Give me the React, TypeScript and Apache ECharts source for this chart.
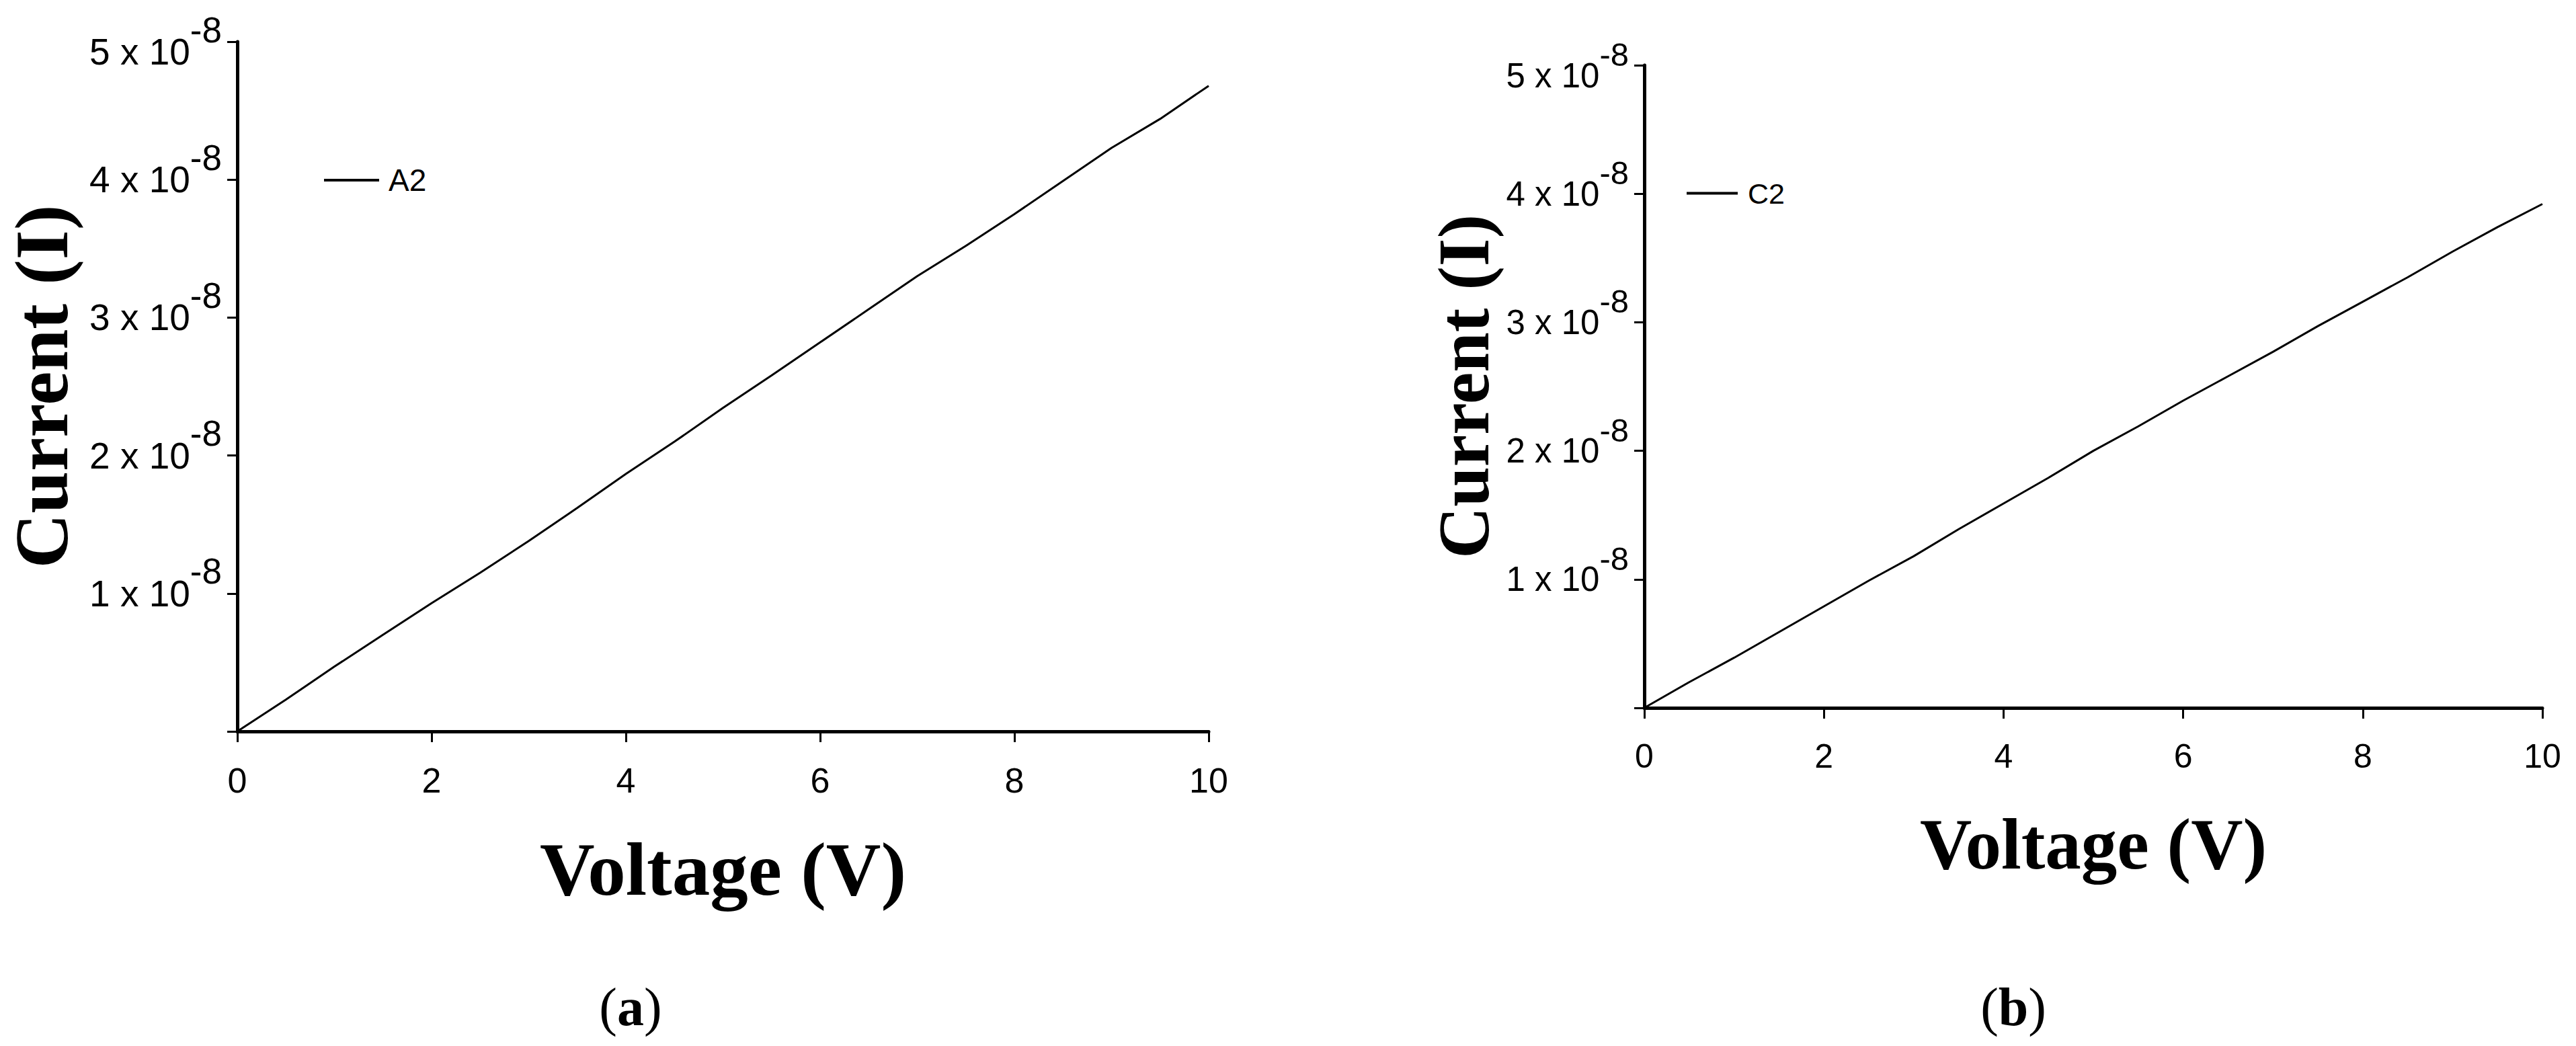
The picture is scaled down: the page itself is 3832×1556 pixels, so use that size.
import React, { useEffect, useRef } from "react";
import * as echarts from "echarts";

// Voltage sweep (V)
const VOLTAGE = [0, 0.5, 1, 1.5, 2, 2.5, 3, 3.5, 4, 4.5, 5, 5.5, 6, 6.5, 7, 7.5, 8, 8.5, 9, 9.5, 10];
// Current in units of 1e-8 A
const CURRENT_A2 = [0, 0.23, 0.47, 0.7, 0.93, 1.15, 1.38, 1.62, 1.866, 2.1, 2.345, 2.58, 2.82, 3.06, 3.3, 3.52, 3.75, 3.99, 4.23, 4.44, 4.68];
const CURRENT_C2 = [0, 0.2, 0.39, 0.59, 0.79, 0.99, 1.18, 1.39, 1.59, 1.79, 2.0, 2.19, 2.39, 2.58, 2.77, 2.97, 3.16, 3.35, 3.55, 3.74, 3.92];

const SERIES_NAMES = ["A2", "C2"];
const PANEL_LABELS = ["a", "b"];
const X_TITLE = "Voltage (V)";
const Y_TITLE = "Current (I)";
const Y_EXPONENT = "-8";
const X_TICK_INTERVAL = 2;
const Y_TICK_INTERVAL = 1;

const SANS = "'Liberation Sans', Arial, sans-serif";
const SERIF = "'Liberation Serif', 'Times New Roman', serif";

const yLabelFormatter = (v: number) => {
  if (v === 0) return "";
  const main = `{m|${v} x 10}{s|${Y_EXPONENT}}`;
  return v === 5 ? `{g| }\n${main}` : main;
};

const makeRich = (mSize: number, sSize: number, raise: number) => ({
  m: { fontFamily: SANS, fontSize: mSize, color: "#000" },
  s: { fontFamily: SANS, fontSize: sSize, color: "#000", padding: [0, 0, raise * 2, 0] },
  g: { fontSize: 1, lineHeight: 30 },
});

function makeAxes(
  gridIndex: number,
  nameGapX: number,
  nameGapY: number,
  titleSize: number,
  xLabelSize: number,
  rich: any
) {
  const xMain = {
    type: "value",
    gridIndex,
    position: "bottom",
    min: 0,
    max: 10,
    interval: X_TICK_INTERVAL,
    axisLine: { show: true, lineStyle: { color: "#000", width: 5 } },
    axisTick: { show: true, inside: false, length: 16, lineStyle: { color: "#000", width: 3 } },
    axisLabel: { fontFamily: SANS, fontSize: xLabelSize, color: "#000", margin: 47 },
    splitLine: { show: false },
    name: X_TITLE,
    nameLocation: "middle",
    nameGap: nameGapX,
    nameTextStyle: { fontFamily: SERIF, fontWeight: "bold", fontSize: titleSize, color: "#000" },
  };
  const xTop = {
    type: "value",
    gridIndex,
    position: "top",
    min: 0,
    max: 10,
    interval: X_TICK_INTERVAL,
    axisLine: { show: true, lineStyle: { color: "#000", width: 3.5 } },
    axisTick: { show: false },
    axisLabel: { show: false },
    splitLine: { show: false },
  };
  const yMain = {
    type: "value",
    gridIndex,
    position: "left",
    min: 0,
    max: 5,
    interval: Y_TICK_INTERVAL,
    axisLine: { show: true, lineStyle: { color: "#000", width: 3.5 } },
    axisTick: { show: true, inside: false, length: 15, lineStyle: { color: "#000", width: 3 } },
    axisLabel: { formatter: yLabelFormatter, rich, margin: 23, color: "#000" },
    splitLine: { show: false },
    name: Y_TITLE,
    nameLocation: "middle",
    nameGap: nameGapY,
    nameTextStyle: { fontFamily: SERIF, fontWeight: "bold", fontSize: titleSize, color: "#000" },
  };
  const yRight = {
    type: "value",
    gridIndex,
    position: "right",
    min: 0,
    max: 5,
    interval: Y_TICK_INTERVAL,
    axisLine: { show: true, lineStyle: { color: "#000", width: 5 } },
    axisTick: { show: false },
    axisLabel: { show: false },
    splitLine: { show: false },
  };
  return { x: [xMain, xTop], y: [yMain, yRight] };
}

export default function App() {
  const ref = useRef<HTMLDivElement>(null);

  useEffect(() => {
    if (!ref.current) return;
    const chart = echarts.init(ref.current, undefined, { renderer: "svg" });
    const a = makeAxes(0, 148, 235, 113, 52, makeRich(55, 53, 33));
    const b = makeAxes(1, 149, 215, 107, 50, makeRich(51, 49, 31));

    const pairs = (ys: number[]) => VOLTAGE.map((v, i) => [v, ys[i]]);

    const option = {
      animation: false,
      backgroundColor: "#fff",
      grid: [
        { left: 353, top: 62, width: 1445, height: 1026, containLabel: false },
        { left: 2446, top: 97, width: 1336, height: 956, containLabel: false },
      ],
      xAxis: [...a.x, ...b.x],
      yAxis: [...a.y, ...b.y],
      legend: [
        {
          data: [{ name: SERIES_NAMES[0], icon: "rect" }],
          left: 482,
          top: 220,
          padding: 0,
          itemWidth: 82,
          itemHeight: 4,
          selectedMode: false,
          itemStyle: { color: "#000" },
          textStyle: { fontFamily: SANS, fontSize: 46, lineHeight: 46, color: "#000", padding: [0, 0, 50, 9] },
        },
        {
          data: [{ name: SERIES_NAMES[1], icon: "rect" }],
          left: 2509,
          top: 244,
          padding: 0,
          itemWidth: 76,
          itemHeight: 4,
          selectedMode: false,
          itemStyle: { color: "#000" },
          textStyle: { fontFamily: SANS, fontSize: 43, lineHeight: 43, color: "#000", padding: [0, 0, 44, 10] },
        },
      ],
      series: [
        {
          name: SERIES_NAMES[0],
          type: "line",
          xAxisIndex: 0,
          yAxisIndex: 0,
          data: pairs(CURRENT_A2),
          showSymbol: false,
          symbol: "none",
          color: "#000",
          lineStyle: { color: "#000", width: 3 },
        },
        {
          name: SERIES_NAMES[1],
          type: "line",
          xAxisIndex: 2,
          yAxisIndex: 2,
          data: pairs(CURRENT_C2),
          showSymbol: false,
          symbol: "none",
          color: "#000",
          lineStyle: { color: "#000", width: 3 },
        },
      ],
      graphic: PANEL_LABELS.map((p, i) => ({
        type: "text",
        x: i === 0 ? 938 : 2995,
        y: 1498,
        style: {
          text: `{p|(}{b|${p}}{p|)}`,
          align: "center",
          verticalAlign: "middle",
          rich: {
            p: { fontFamily: SERIF, fontSize: 80, fill: "#000", color: "#000" },
            b: { fontFamily: SERIF, fontSize: 80, fontWeight: "bold", fill: "#000", color: "#000" },
          },
        },
      })),
    };

    chart.setOption(option as any);
    return () => chart.dispose();
  }, []);

  return (
    <div
      ref={ref}
      style={{ position: "absolute", left: 0, top: 0, width: 3832, height: 1556, background: "#fff" }}
    />
  );
}
